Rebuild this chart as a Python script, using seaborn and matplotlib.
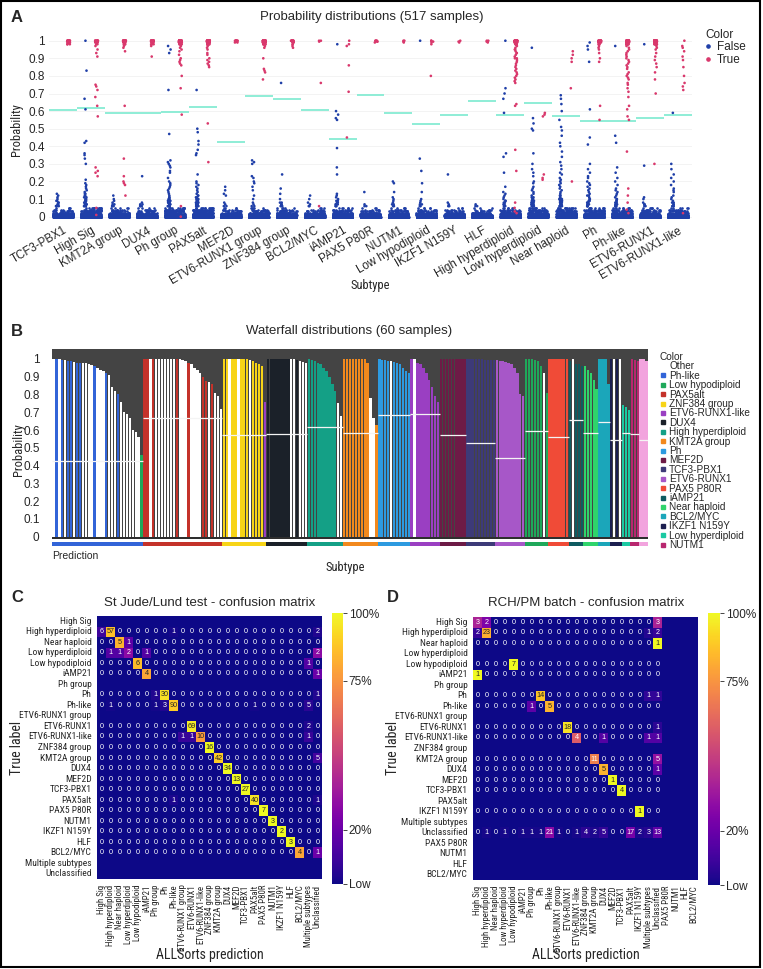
import numpy as np
import pandas as pd
import matplotlib
matplotlib.use('Agg')
import matplotlib.pyplot as plt
import matplotlib.font_manager as fm
from matplotlib.lines import Line2D
from matplotlib.patches import Rectangle
import seaborn as sns

# ---------------- panel A : probability distributions ----------------
SUBTYPES_A = ['TCF3-PBX1', 'High Sig', 'KMT2A group', 'DUX4', 'Ph group', 'PAX5alt', 'MEF2D',
              'ETV6-RUNX1 group', 'ZNF384 group', 'BCL2/MYC', 'iAMP21', 'PAX5 P80R', 'NUTM1',
              'Low hypodiploid', 'IKZF1 N159Y', 'HLF', 'High hyperdiploid', 'Low hyperdiploid',
              'Near haploid', 'Ph', 'Ph-like', 'ETV6-RUNX1', 'ETV6-RUNX1-like']
THRESH_A = [0.606, 0.616, 0.587, 0.587, 0.593, 0.621, 0.423, 0.684, 0.669, 0.606, 0.443, 0.69,
            0.589, 0.526, 0.58, 0.659, 0.58, 0.644, 0.572, 0.544, 0.546, 0.561, 0.578]

# dense cloud of "False" points near zero: counts per value
LOW_BINS = [0.0, 0.005, 0.01, 0.015, 0.02, 0.03, 0.04, 0.05]
FALSE_LOW = [
    [200, 110, 70, 40, 22, 12, 7, 4],
    [150, 90, 70, 45, 35, 25, 18, 12],
    [190, 105, 70, 40, 25, 14, 8, 5],
    [200, 110, 70, 40, 22, 12, 7, 4],
    [140, 85, 70, 45, 35, 28, 20, 14],
    [140, 85, 70, 45, 35, 28, 20, 14],
    [205, 110, 72, 40, 22, 12, 7, 4],
    [185, 100, 70, 40, 25, 14, 8, 5],
    [195, 105, 70, 42, 25, 14, 8, 5],
    [205, 112, 72, 40, 22, 12, 6, 3],
    [185, 100, 72, 45, 28, 16, 10, 6],
    [205, 112, 72, 40, 22, 12, 6, 3],
    [195, 108, 72, 42, 25, 14, 8, 5],
    [195, 108, 72, 42, 25, 14, 8, 5],
    [208, 112, 72, 40, 22, 12, 6, 3],
    [210, 114, 72, 40, 22, 12, 6, 3],
    [170, 95, 70, 42, 28, 18, 10, 6],
    [160, 92, 70, 45, 32, 22, 15, 10],
    [150, 90, 70, 45, 35, 25, 18, 12],
    [160, 92, 70, 45, 32, 22, 14, 9],
    [150, 90, 70, 45, 32, 22, 14, 9],
    [170, 95, 70, 42, 28, 16, 10, 6],
    [185, 100, 72, 45, 28, 16, 10, 6],
]
FALSE_VALS = [
    [0.13, 0.12, 0.11, 0.1, 0.09, 0.09, 0.08, 0.08, 0.07, 0.07, 0.07, 0.06, 0.06, 0.06, 0.06],
    [1.0, 0.83, 0.67, 0.61, 0.43, 0.42, 0.36, 0.35, 0.33, 0.3, 0.21, 0.19, 0.18, 0.17, 0.16, 0.15,
     0.14, 0.13, 0.13, 0.12, 0.12, 0.11, 0.11, 0.1, 0.1, 0.09, 0.09, 0.09, 0.08, 0.08, 0.08, 0.07,
     0.07, 0.07, 0.07, 0.06, 0.06, 0.06, 0.06],
    [0.12, 0.1, 0.09, 0.08, 0.07, 0.07, 0.06, 0.06, 0.06],
    [0.23, 0.08, 0.07, 0.07, 0.06, 0.06, 0.06],
    [0.97, 0.95, 0.93, 0.72, 0.47, 0.32, 0.31, 0.3, 0.29, 0.28, 0.26, 0.25, 0.22, 0.2, 0.19, 0.18,
     0.17, 0.16, 0.15, 0.14, 0.13, 0.12, 0.11, 0.11, 0.1, 0.1, 0.1, 0.09, 0.09, 0.09, 0.09, 0.08,
     0.08, 0.08, 0.08, 0.07, 0.07, 0.07, 0.07, 0.06, 0.06, 0.06, 0.06, 0.06],
    [0.72, 0.5, 0.48, 0.43, 0.41, 0.38, 0.36, 0.35, 0.24, 0.2, 0.19, 0.18, 0.17, 0.16, 0.15, 0.14,
     0.13, 0.12, 0.12, 0.11, 0.11, 0.1, 0.1, 0.1, 0.09, 0.09, 0.09, 0.09, 0.08, 0.08, 0.08, 0.08,
     0.07, 0.07, 0.07, 0.07, 0.07, 0.06, 0.06, 0.06, 0.06, 0.06],
    [0.17, 0.15, 0.13, 0.12, 0.08, 0.07, 0.06, 0.06],
    [0.32, 0.31, 0.3, 0.23, 0.22, 0.2, 0.19, 0.17, 0.15, 0.12, 0.1, 0.08, 0.07, 0.06, 0.06],
    [0.76, 0.24, 0.16, 0.13, 0.1, 0.08, 0.08, 0.07, 0.07, 0.06, 0.06, 0.06],
    [0.12, 0.1, 0.08, 0.07, 0.06, 0.06],
    [0.98, 0.6, 0.58, 0.56, 0.55, 0.39, 0.28, 0.24, 0.13, 0.12, 0.11, 0.1, 0.09, 0.09, 0.08, 0.08,
     0.07, 0.07, 0.07, 0.06, 0.06, 0.06],
    [0.14, 0.07, 0.06, 0.06],
    [0.2, 0.19, 0.14, 0.11, 0.1, 0.09, 0.08, 0.07, 0.07, 0.06, 0.06],
    [1.0, 0.33, 0.26, 0.19, 0.14, 0.1, 0.09, 0.08, 0.07, 0.07, 0.06, 0.06],
    [0.24, 0.08, 0.07, 0.06, 0.06],
    [0.07, 0.06, 0.06],
    [1.0, 0.73, 0.7, 0.67, 0.59, 0.36, 0.34, 0.25, 0.17, 0.14, 0.13, 0.12, 0.11, 0.1, 0.09, 0.09,
     0.08, 0.08, 0.07, 0.07, 0.07, 0.06, 0.06, 0.06],
    [0.96, 0.56, 0.53, 0.5, 0.49, 0.36, 0.3, 0.27, 0.25, 0.23, 0.2, 0.19, 0.17, 0.16, 0.15, 0.14,
     0.13, 0.12, 0.11, 0.11, 0.1, 0.1, 0.09, 0.09, 0.08, 0.08, 0.08, 0.07, 0.07, 0.07, 0.06, 0.06,
     0.06, 0.06],
    [0.69, 0.67, 0.64, 0.6, 0.55, 0.51, 0.49, 0.46, 0.42, 0.4, 0.37, 0.34, 0.31, 0.29, 0.27, 0.25,
     0.24, 0.22, 0.21, 0.2, 0.19, 0.18, 0.17, 0.16, 0.15, 0.14, 0.13, 0.12, 0.12, 0.11, 0.11, 0.1,
     0.1, 0.1, 0.09, 0.09, 0.09, 0.08, 0.08, 0.08, 0.08, 0.07, 0.07, 0.07, 0.07, 0.06, 0.06, 0.06,
     0.06, 0.06],
    [0.99, 0.97, 0.95, 0.88, 0.61, 0.45, 0.41, 0.3, 0.27, 0.25, 0.23, 0.22, 0.2, 0.19, 0.18, 0.17,
     0.16, 0.15, 0.14, 0.13, 0.12, 0.12, 0.11, 0.1, 0.1, 0.09, 0.09, 0.08, 0.08, 0.08, 0.07, 0.07,
     0.07, 0.06, 0.06, 0.06, 0.06],
    [0.97, 0.46, 0.42, 0.28, 0.25, 0.22, 0.2, 0.18, 0.16, 0.15, 0.14, 0.13, 0.12, 0.11, 0.1, 0.1,
     0.09, 0.09, 0.08, 0.08, 0.07, 0.07, 0.07, 0.06, 0.06, 0.06],
    [0.98, 0.29, 0.11, 0.1, 0.08, 0.07, 0.07, 0.06, 0.06],
    [0.59, 0.3, 0.27, 0.24, 0.22, 0.2, 0.18, 0.16, 0.15, 0.14, 0.12, 0.11, 0.1, 0.09, 0.08, 0.08,
     0.07, 0.07, 0.06, 0.06, 0.06],
]
# "True" points stacked close to 1: counts per value
TOP_BINS = [1.0, 0.995, 0.99, 0.98]
TRUE_TOP = [
    [14, 8, 5, 3], [10, 6, 4, 2], [25, 12, 8, 5], [18, 9, 5, 3], [40, 20, 12, 8], [30, 15, 10, 8],
    [8, 4, 2, 0], [40, 20, 12, 8], [10, 5, 3, 2], [2, 1, 0, 0], [1, 0, 0, 1], [4, 2, 1, 0],
    [2, 1, 0, 0], [2, 1, 1, 0], [1, 1, 0, 0], [2, 1, 0, 0], [30, 15, 10, 8], [0, 0, 0, 0],
    [0, 0, 0, 0], [12, 8, 5, 4], [35, 20, 12, 10], [30, 15, 10, 8], [1, 0, 0, 0],
]
TRUE_VALS = [
    [],
    [0.97, 0.95, 0.93, 0.91, 0.75, 0.74, 0.72, 0.68, 0.63, 0.57, 0.28, 0.26, 0.25, 0.23, 0.05, 0.01],
    [0.97, 0.96, 0.94, 0.63, 0.33, 0.23, 0.2, 0.19, 0.18, 0.12],
    [0.97, 0.91],
    [0.97, 0.96, 0.95, 0.94, 0.92, 0.9, 0.89, 0.88, 0.87, 0.86, 0.8, 0.73, 0.58, 0.06, 0.0],
    [0.97, 0.96, 0.95, 0.93, 0.92, 0.9, 0.89, 0.88, 0.87, 0.86, 0.85, 0.53, 0.31],
    [],
    [0.97, 0.96, 0.9, 0.84, 0.83, 0.82, 0.78],
    [0.97, 0.96],
    [0.76, 0.06],
    [0.97, 0.86, 0.71, 0.45],
    [],
    [0.99],
    [0.98, 0.8],
    [0.99],
    [0.99],
    [0.97, 0.96, 0.95, 0.95, 0.94, 0.93, 0.93, 0.92, 0.91, 0.9, 0.9, 0.89, 0.88, 0.87, 0.86, 0.85,
     0.84, 0.83, 0.82, 0.81, 0.8, 0.79, 0.78, 0.77, 0.76, 0.64, 0.63, 0.38, 0.26, 0.08, 0.05, 0.03, 0.02],
    [0.59, 0.58, 0.57, 0.24, 0.22, 0.21],
    [0.94, 0.92, 0.9, 0.88, 0.73, 0.2],
    [0.97, 0.96, 0.95, 0.93, 0.9, 0.88, 0.63, 0.55],
    [0.97, 0.96, 0.95, 0.94, 0.93, 0.92, 0.91, 0.9, 0.89, 0.88, 0.87, 0.86, 0.85, 0.84, 0.82, 0.81,
     0.8, 0.79, 0.78, 0.76, 0.75, 0.73, 0.71, 0.68, 0.63, 0.61, 0.57, 0.55, 0.37, 0.16, 0.12, 0.08,
     0.04, 0.02],
    [0.97, 0.96, 0.95, 0.93, 0.91, 0.89, 0.87, 0.85, 0.82, 0.78, 0.7, 0.3],
    [0.97, 0.96, 0.94, 0.91, 0.89, 0.85, 0.8, 0.76, 0.74, 0.72, 0.02],
]

# ---------------- panel B : waterfall ----------------
B_GROUPS = ['Ph-like', 'PAX5alt', 'ZNF384 group', 'DUX4', 'High hyperdiploid', 'KMT2A group', 'Ph',
            'ETV6-RUNX1-like', 'MEF2D', 'TCF3-PBX1', 'ETV6-RUNX1', 'Low hypodiploid', 'PAX5 P80R',
            'iAMP21', 'Near haploid', 'BCL2/MYC', 'IKZF1 N159Y', 'Low hyperdiploid', 'NUTM1', 'HLF']
B_HEIGHTS = [
    [1.0, 1.0, 1.0, 0.995, 0.995, 0.99, 0.99, 0.985, 0.98, 0.98, 0.975, 0.975, 0.97, 0.965, 0.96,
     0.95, 0.94, 0.93, 0.92, 0.91, 0.84, 0.82, 0.8, 0.76, 0.7, 0.69, 0.67, 0.6, 0.59, 0.56, 0.46],
    [1, 1, 1, 1, 1, 1, 1, 1, 1, 1, 1, 1, 1, 0.995, 0.99, 0.98, 0.97, 0.95, 0.94, 0.92, 0.9, 0.875,
     0.87, 0.86, 0.81, 0.79, 0.72],
    [1, 1, 1, 1, 1, 1, 1, 1, 1, 0.995, 0.99, 0.98, 0.97, 0.96, 0.76],
    [1, 1, 1, 1, 1, 1, 1, 1, 1, 1, 0.995, 0.99, 0.985, 0.98],
    [1, 0.995, 0.99, 0.98, 0.97, 0.95, 0.93, 0.9, 0.86, 0.82, 0.75, 0.68],
    [1, 1, 1, 1, 1, 1, 1, 1, 0.98, 0.78, 0.67, 0.63],
    [1, 0.995, 0.995, 0.99, 0.99, 0.985, 0.98, 0.97, 0.95, 0.93, 0.92],
    [1, 1, 0.98, 0.97, 0.95, 0.92, 0.88, 0.84, 0.79, 0.76],
    [1, 1, 1, 1, 1, 1, 1, 1, 1],
    [1, 1, 1, 1, 1, 1, 0.995, 0.995, 0.995, 0.995],
    [0.995, 0.99, 0.99, 0.985, 0.98, 0.97, 0.95, 0.92, 0.8, 0.79],
    [1, 1, 1, 0.995, 0.99, 0.96, 0.92, 0.81],
    [1, 1, 1, 1, 1, 1, 1],
    [0.99, 1.0, 0.97, 0.97, 0.96],
    [0.96, 0.94, 0.92, 0.88, 0.83],
    [1, 1, 1, 0.86],
    [1, 1, 1, 1],
    [0.74, 0.73, 0.71],
    [1, 0.995, 0.99],
    [1, 1, 0.99],
]
# 1 = sample predicted as the group subtype, 0 = other, name = another subtype
B_CODES = [
    [0, 1, 0, 1, 0, 1, 1, 0, 1, 1, 0, 0, 0, 0, 1, 0, 0, 0, 1, 0, 0, 0, 1, 0, 0, 0, 0, 0, 0, 0,
     'Low hypodiploid'],
    [1, 1, 0, 1, 0, 0, 0, 0, 0, 0, 0, 1, 0, 0, 0, 1, 0, 0, 0, 0, 1, 1, 0, 1, 0, 0, 0],
    [1, 1, 0, 1, 1, 0, 1, 1, 1, 0, 1, 1, 1, 1, 'ETV6-RUNX1-like'],
    [1, 1, 1, 1, 1, 1, 1, 1, 0, 0, 1, 0, 0, 0],
    [1, 1, 1, 1, 1, 1, 1, 1, 1, 1, 0, 0],
    [1, 1, 1, 1, 1, 1, 1, 1, 1, 0, 0, 1],
    [1, 1, 1, 1, 0, 1, 1, 1, 1, 1, 1],
    [1, 0, 1, 1, 1, 1, 1, 1, 1, 1],
    [1, 1, 1, 1, 1, 1, 1, 1, 1],
    [1, 1, 1, 1, 1, 1, 1, 1, 1, 1],
    [1, 1, 1, 1, 1, 1, 1, 1, 1, 1],
    [1, 1, 1, 1, 1, 1, 0, 1],
    [1, 1, 1, 1, 1, 1, 1],
    [1, 0, 1, 1, 1],
    [1, 1, 1, 1, 1],
    [1, 1, 1, 1],
    [1, 0, 1, 0],
    [1, 1, 1],
    [1, 1, 1],
    [1, 1, 1],
]
THRESH_B = [0.423, 0.667, 0.573, 0.58, 0.617, 0.583, 0.684, 0.69, 0.571, 0.526, 0.442, 0.594,
            0.558, 0.656, 0.586, 0.643, 0.545, 0.586, 0.577, 0.543]
B_COLORS = {
    'Other': '#ffffff', 'Ph-like': '#3264d8', 'Low hypodiploid': '#1fa85a', 'PAX5alt': '#c4322a',
    'ZNF384 group': '#f7d417', 'ETV6-RUNX1-like': '#9a3fc2', 'DUX4': '#1b2129',
    'High hyperdiploid': '#14a086', 'KMT2A group': '#f2891d', 'Ph': '#2d9ae0', 'MEF2D': '#6d1b46',
    'TCF3-PBX1': '#3d3a78', 'ETV6-RUNX1': '#a757c8', 'PAX5 P80R': '#f04b37', 'iAMP21': '#0e5b60',
    'Near haploid': '#2fd46b', 'BCL2/MYC': '#1ba6ba', 'IKZF1 N159Y': '#1c1f50',
    'Low hyperdiploid': '#1bc9a2', 'NUTM1': '#b8276f', 'HLF': '#f2a4de',
}
B_LEGEND = ['Other', 'Ph-like', 'Low hypodiploid', 'PAX5alt', 'ZNF384 group', 'ETV6-RUNX1-like',
            'DUX4', 'High hyperdiploid', 'KMT2A group', 'Ph', 'MEF2D', 'TCF3-PBX1', 'ETV6-RUNX1',
            'PAX5 P80R', 'iAMP21', 'Near haploid', 'BCL2/MYC', 'IKZF1 N159Y', 'Low hyperdiploid',
            'NUTM1']

# ---------------- panels C / D : confusion matrices ----------------
LABELS_C = ['High Sig', 'High hyperdiploid', 'Near haploid', 'Low hyperdiploid', 'Low hypodiploid',
            'iAMP21', 'Ph group', 'Ph', 'Ph-like', 'ETV6-RUNX1 group', 'ETV6-RUNX1',
            'ETV6-RUNX1-like', 'ZNF384 group', 'KMT2A group', 'DUX4', 'MEF2D', 'TCF3-PBX1',
            'PAX5alt', 'PAX5 P80R', 'NUTM1', 'IKZF1 N159Y', 'HLF', 'BCL2/MYC', 'Multiple subtypes',
            'Unclassified']
EMPTY_ROWS_C = ['High Sig', 'Ph group', 'ETV6-RUNX1 group', 'Multiple subtypes', 'Unclassified']
CELLS_C = [
    ('High hyperdiploid', 'High Sig', 6), ('High hyperdiploid', 'High hyperdiploid', 57),
    ('High hyperdiploid', 'Ph-like', 1), ('High hyperdiploid', 'Unclassified', 2),
    ('Near haploid', 'Near haploid', 5), ('Near haploid', 'Low hyperdiploid', 1),
    ('Low hyperdiploid', 'High hyperdiploid', 1), ('Low hyperdiploid', 'Near haploid', 1),
    ('Low hyperdiploid', 'Low hyperdiploid', 2), ('Low hyperdiploid', 'iAMP21', 1),
    ('Low hyperdiploid', 'Unclassified', 2),
    ('Low hypodiploid', 'Low hypodiploid', 6), ('Low hypodiploid', 'Multiple subtypes', 1),
    ('iAMP21', 'iAMP21', 4), ('iAMP21', 'Unclassified', 1),
    ('Ph', 'Ph group', 1), ('Ph', 'Ph', 30), ('Ph', 'Unclassified', 1),
    ('Ph-like', 'High hyperdiploid', 1), ('Ph-like', 'Ph group', 1), ('Ph-like', 'Ph', 3),
    ('Ph-like', 'Ph-like', 90), ('Ph-like', 'PAX5alt', 1), ('Ph-like', 'Multiple subtypes', 5),
    ('ETV6-RUNX1', 'ETV6-RUNX1', 69), ('ETV6-RUNX1', 'Multiple subtypes', 2),
    ('ETV6-RUNX1-like', 'ETV6-RUNX1 group', 1), ('ETV6-RUNX1-like', 'ETV6-RUNX1', 1),
    ('ETV6-RUNX1-like', 'ETV6-RUNX1-like', 10), ('ETV6-RUNX1-like', 'Multiple subtypes', 1),
    ('ZNF384 group', 'ZNF384 group', 16),
    ('KMT2A group', 'KMT2A group', 42), ('KMT2A group', 'Unclassified', 5),
    ('DUX4', 'DUX4', 34), ('MEF2D', 'MEF2D', 13), ('TCF3-PBX1', 'TCF3-PBX1', 27),
    ('PAX5alt', 'Ph-like', 1), ('PAX5alt', 'PAX5alt', 40), ('PAX5alt', 'Unclassified', 1),
    ('PAX5 P80R', 'PAX5 P80R', 7), ('NUTM1', 'NUTM1', 3), ('IKZF1 N159Y', 'IKZF1 N159Y', 2),
    ('HLF', 'HLF', 3), ('BCL2/MYC', 'BCL2/MYC', 4), ('BCL2/MYC', 'Unclassified', 1),
]

LABELS_D = ['High Sig', 'High hyperdiploid', 'Near haploid', 'Low hyperdiploid', 'Low hypodiploid',
            'iAMP21', 'Ph group', 'Ph', 'Ph-like', 'ETV6-RUNX1 group', 'ETV6-RUNX1',
            'ETV6-RUNX1-like', 'ZNF384 group', 'KMT2A group', 'DUX4', 'MEF2D', 'TCF3-PBX1',
            'PAX5alt', 'IKZF1 N159Y', 'Multiple subtypes', 'Unclassified', 'PAX5 P80R', 'NUTM1',
            'HLF', 'BCL2/MYC']
EMPTY_ROWS_D = ['Low hyperdiploid', 'Ph group', 'ETV6-RUNX1 group', 'ZNF384 group', 'PAX5alt',
                'Multiple subtypes', 'PAX5 P80R', 'NUTM1', 'HLF', 'BCL2/MYC']
EMPTY_COLS_D = ['PAX5 P80R', 'NUTM1', 'HLF', 'BCL2/MYC']
CELLS_D = [
    ('High Sig', 'High Sig', 3), ('High Sig', 'High hyperdiploid', 2), ('High Sig', 'Unclassified', 3),
    ('High hyperdiploid', 'High Sig', 2), ('High hyperdiploid', 'High hyperdiploid', 23),
    ('High hyperdiploid', 'Multiple subtypes', 1), ('High hyperdiploid', 'Unclassified', 2),
    ('Near haploid', 'Unclassified', 1), ('Low hypodiploid', 'Low hypodiploid', 7),
    ('iAMP21', 'High Sig', 1),
    ('Ph', 'Ph', 14), ('Ph', 'Multiple subtypes', 1), ('Ph', 'Unclassified', 1),
    ('Ph-like', 'Ph group', 1), ('Ph-like', 'Ph-like', 5),
    ('ETV6-RUNX1', 'ETV6-RUNX1', 18), ('ETV6-RUNX1', 'Unclassified', 1),
    ('ETV6-RUNX1-like', 'ETV6-RUNX1-like', 4), ('ETV6-RUNX1-like', 'DUX4', 1),
    ('ETV6-RUNX1-like', 'Multiple subtypes', 1), ('ETV6-RUNX1-like', 'Unclassified', 1),
    ('KMT2A group', 'KMT2A group', 11), ('KMT2A group', 'Unclassified', 5),
    ('DUX4', 'DUX4', 5), ('DUX4', 'Unclassified', 1), ('MEF2D', 'MEF2D', 1),
    ('TCF3-PBX1', 'TCF3-PBX1', 4), ('IKZF1 N159Y', 'IKZF1 N159Y', 1),
    ('Unclassified', 'High hyperdiploid', 1), ('Unclassified', 'Low hyperdiploid', 1),
    ('Unclassified', 'iAMP21', 1), ('Unclassified', 'Ph group', 1), ('Unclassified', 'Ph', 1),
    ('Unclassified', 'Ph-like', 21), ('Unclassified', 'ETV6-RUNX1 group', 1),
    ('Unclassified', 'ETV6-RUNX1-like', 1), ('Unclassified', 'ZNF384 group', 4),
    ('Unclassified', 'KMT2A group', 2), ('Unclassified', 'DUX4', 5), ('Unclassified', 'PAX5alt', 17),
    ('Unclassified', 'IKZF1 N159Y', 2), ('Unclassified', 'Multiple subtypes', 3),
    ('Unclassified', 'Unclassified', 13),
]

BLUE = '#1f3fa8'
PINK = '#d9386c'
MINT = '#86ecd3'

W, H = 763, 969


def box(l, t, r, b):
    return [l / W, 1 - b / H, (r - l) / W, (b - t) / H]


sns.set_theme(style='white')
names = {f.name for f in fm.fontManager.ttflist}
MAIN = 'Liberation Sans' if 'Liberation Sans' in names else 'DejaVu Sans'
# a condensed face for the axis titles / matrix labels, if one is installed
cond = {f.name for f in fm.fontManager.ttflist if f.stretch in ('condensed', 'semi-condensed', 'extra-condensed')}
NARROW = next((n for n in ['Roboto Condensed', 'Liberation Sans Narrow', 'Noto Sans', 'Open Sans',
                           'DejaVu Sans', 'Roboto'] if n in cond), MAIN)
plt.rcParams['font.family'] = [MAIN, 'DejaVu Sans']
np.random.seed(3)

fig = plt.figure(figsize=(W / 100, H / 100), dpi=100)


def ntext(x, y, s, size, **kw):
    fig.text(x / W, 1 - y / H, s, fontsize=size, family=NARROW, fontstretch='condensed', **kw)


# ---- A ----
rows = []
for i, s in enumerate(SUBTYPES_A):
    for v, n in zip(LOW_BINS, FALSE_LOW[i]):
        rows += [(s, v, 'False', 'blob')] * n
    rows += [(s, v, 'False', 'pt') for v in FALSE_VALS[i]]
    for v, n in zip(TOP_BINS, TRUE_TOP[i]):
        rows += [(s, v, 'True', 'pt')] * n
    rows += [(s, v, 'True', 'pt') for v in TRUE_VALS[i]]
dfa = pd.DataFrame(rows, columns=['Subtype', 'Probability', 'Color', 'kind'])

axa = fig.add_axes(box(49, 32.8, 692, 220.2))
for t in np.arange(0, 1.01, 0.1):
    axa.axhline(t, color='#f1f1f1', lw=0.6, zorder=0)
for i, t in enumerate(THRESH_A):
    axa.hlines(t, i - 0.5, i + 0.5, color=MINT, lw=1.3, zorder=1)
sns.stripplot(data=dfa[dfa.kind == 'blob'], x='Subtype', y='Probability', order=SUBTYPES_A,
              color=BLUE, jitter=0.36, size=1.9, linewidth=0, ax=axa, zorder=2)
sns.stripplot(data=dfa[dfa.kind == 'pt'], x='Subtype', y='Probability', order=SUBTYPES_A,
              hue='Color', hue_order=['False', 'True'], palette={'False': BLUE, 'True': PINK},
              dodge=True, jitter=0.1, size=1.9, linewidth=0, legend=False, ax=axa, zorder=3)
axa.set_xlim(-0.5, len(SUBTYPES_A) - 0.5)
axa.set_ylim(-0.02, 1.045)
axa.set_yticks(np.round(np.arange(0, 1.01, 0.1), 1))
axa.set_yticklabels(['0'] + [f'{v:.1f}' for v in np.arange(0.1, 0.95, 0.1)] + ['1'], fontsize=8.5)
axa.set_xticks(range(len(SUBTYPES_A)))
axa.set_xticklabels(SUBTYPES_A, rotation=30, ha='right', rotation_mode='anchor', fontsize=8.3)
axa.tick_params(length=0, pad=3)
axa.set_xlabel('')
axa.set_ylabel('')
sns.despine(ax=axa, left=True, bottom=True)
fig.text(372 / W, 1 - 17 / H, 'Probability distributions (517 samples)', fontsize=9.5,
         ha='center', va='center')
fig.text(11 / W, 1 - 17 / H, 'A', fontsize=12, fontweight='bold', va='center')
ntext(17, 130, 'Probability', 9, rotation=90, ha='center', va='center')
ntext(370, 286, 'Subtype', 9, ha='center', va='center')
fig.legend(handles=[Line2D([], [], marker='o', ls='', ms=2.3, color=BLUE, label='False'),
                    Line2D([], [], marker='o', ls='', ms=2.3, color=PINK, label='True')],
           title='Color', loc='upper left', bbox_to_anchor=(699 / W, 1 - 23 / H), frameon=False,
           fontsize=8.5, title_fontsize=8.5, handlelength=0.6, handletextpad=0.4,
           labelspacing=0.05, borderpad=0, alignment='left')

# ---- B ----
rows = []
spans = []
idx = 0
for g, hs, cs in zip(B_GROUPS, B_HEIGHTS, B_CODES):
    start = idx
    for h, c in zip(hs, cs):
        lab = g if c == 1 else ('Other' if c == 0 else c)
        rows.append((idx, h, lab))
        idx += 1
    spans.append((start, idx))
dfb = pd.DataFrame(rows, columns=['bar', 'Probability', 'Color'])
bar_colors = [B_COLORS[c] for c in dfb['Color']]

axb = fig.add_axes(box(52, 349, 648, 539.3))
axb.set_facecolor('#444444')
sns.barplot(data=dfb, x='bar', y='Probability', hue='bar', palette=bar_colors,
            order=list(range(idx)), hue_order=list(range(idx)), dodge=False, width=0.8,
            errorbar=None, saturation=1, legend=False, linewidth=0, edgecolor='none', ax=axb)
for (s0, s1), t in zip(spans, THRESH_B):
    axb.hlines(t, s0 - 0.5, s1 - 0.5, color='#f4f4f4', lw=0.9, zorder=5)
axb.axhspan(-0.015, 0, color='#2e2e2e', lw=0)
axb.set_xlim(-0.5, idx - 0.5)
axb.set_ylim(-0.015, 1.056)
axb.set_xticks([])
axb.set_yticks(np.round(np.arange(0, 1.01, 0.1), 1))
axb.set_yticklabels(['0'] + [f'{v:.1f}' for v in np.arange(0.1, 0.95, 0.1)] + ['1'], fontsize=8.5)
axb.tick_params(length=0, pad=9)
axb.set_xlabel('')
axb.set_ylabel('')
for sp in axb.spines.values():
    sp.set_visible(False)

axp = fig.add_axes(box(52, 542, 648, 546))
for g, (s0, s1) in zip(B_GROUPS, spans):
    axp.axvspan(s0 - 0.5, s1 - 0.5, color=B_COLORS[g], lw=0)
axp.set_xlim(-0.5, idx - 0.5)
axp.axis('off')
fig.text(52 / W, 1 - 556 / H, 'Prediction', fontsize=7.5, va='center')
fig.text(349 / W, 1 - 331 / H, 'Waterfall distributions (60 samples)', fontsize=9.5,
         ha='center', va='center')
fig.text(11 / W, 1 - 331 / H, 'B', fontsize=12, fontweight='bold', va='center')
ntext(19, 450, 'Probability', 9, rotation=90, ha='center', va='center')
ntext(345, 568, 'Subtype', 9, ha='center', va='center')
fig.legend(handles=[Line2D([], [], marker='s', ls='', ms=2.6, color=B_COLORS[k], label=k)
                    for k in B_LEGEND],
           title='Color', loc='upper left', bbox_to_anchor=(655 / W, 1 - 347 / H),
           frameon=False, fontsize=7.2, title_fontsize=7.2, handlelength=0.5,
           handletextpad=0.4, labelspacing=-0.06, borderpad=0, alignment='left')


# ---- C / D ----
def matrix(labels_r, labels_c, cells, empty_rows, empty_cols):
    m = pd.DataFrame(0.0, index=labels_r, columns=labels_c)
    for r, c, n in cells:
        m.loc[r, c] = n
    m.loc[empty_rows, :] = np.nan
    if empty_cols:
        m.loc[:, empty_cols] = np.nan
    return m


def confusion(m, hbox, cbox, title, letter, lx, tx):
    ax = fig.add_axes(box(*hbox))
    cax = fig.add_axes(box(*cbox))
    frac = m.div(m.sum(axis=1), axis=0)
    annot = m.apply(lambda col: col.map(lambda v: '' if np.isnan(v) else str(int(v))))
    sns.heatmap(frac, mask=m.isna(), annot=annot.values, fmt='', cmap='plasma', vmin=0, vmax=1,
                ax=ax, cbar_ax=cax, annot_kws={'fontsize': 5.2},
                xticklabels=list(m.columns), yticklabels=list(m.index))
    ax.set_facecolor(plt.get_cmap('plasma')(0.0))
    ax.set_xlabel('')
    ax.set_ylabel('')
    ax.tick_params(length=2.5, width=0.6, pad=1.5, color='#333333')
    for lab in ax.get_xticklabels():
        lab.set_rotation(90)
        lab.set_fontsize(6.4)
        lab.set_family(NARROW)
        lab.set_fontstretch('condensed')
    for lab in ax.get_yticklabels():
        lab.set_rotation(0)
        lab.set_fontsize(6.8)
        lab.set_family(NARROW)
        lab.set_fontstretch('condensed')
    cbar = ax.collections[0].colorbar
    cbar.outline.set_visible(False)
    cbar.set_ticks([0, 0.2, 0.75, 1])
    cbar.set_ticklabels(['Low', '20%', '75%', '100%'])
    cax.tick_params(labelsize=8.5, length=3, width=0.6, pad=1)
    fig.text(tx / W, 1 - 603 / H, title, fontsize=9.5, ha='center', va='center')
    fig.text(lx / W, 1 - 598 / H, letter, fontsize=12, fontweight='bold', va='center')
    ntext(tx, 955, 'ALLSorts prediction', 10, ha='center', va='center')


mc = matrix(LABELS_C, LABELS_C, CELLS_C, EMPTY_ROWS_C, [])
md = matrix(LABELS_D, LABELS_D, CELLS_D, EMPTY_ROWS_D, EMPTY_COLS_D)
confusion(mc, (97, 616, 322, 879), (332, 613, 343, 884), 'St Jude/Lund test - confusion matrix',
          'C', 11, 210)
confusion(md, (473, 617, 698, 880), (708, 613, 720, 885), 'RCH/PM batch - confusion matrix',
          'D', 387, 586)
ntext(17, 748, 'True label', 10, rotation=90, ha='center', va='center')
ntext(393, 748, 'True label', 10, rotation=90, ha='center', va='center')

fig.add_artist(Rectangle((1 / W, 2 / H), 759 / W, 966 / H, transform=fig.transFigure,
                         fill=False, lw=1.5, ec='black'))
fig.savefig('out.png', dpi=100)
